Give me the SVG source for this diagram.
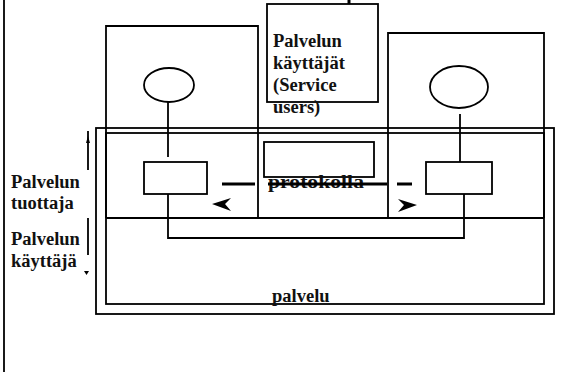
<svg xmlns="http://www.w3.org/2000/svg" width="569" height="372" viewBox="0 0 569 372">
<style>
  .ln { fill: none; stroke: #000; stroke-width: 1.8; }
  .thick { fill: none; stroke: #000; stroke-width: 3; }
  .t { font-family: "Liberation Serif", "Times New Roman", serif; font-weight: bold; font-size: 18.5px; fill: #111; }
  .ah { fill: #000; stroke: none; }
</style>
<rect x="0" y="0" width="569" height="372" fill="#fff"/>

<g id="page-edge">
  <line class="ln" x1="4" y1="0" x2="4" y2="372" stroke-width="2.2"/>
</g>

<g id="service-frame">
  <rect class="ln" x="96" y="128" width="458" height="186"/>
</g>

<g id="service-inner">
  <rect class="ln" x="106" y="133" width="438" height="171"/>
  <line class="ln" x1="106" y1="218" x2="544" y2="218"/>
  <text class="t" x="272" y="302">palvelu</text>
</g>

<g id="left-entity">
  <path class="ln" d="M106,218 V26 H258 V218"/>
  <ellipse class="ln" cx="169" cy="85" rx="25" ry="17"/>
  <rect class="ln" x="144" y="162" width="63" height="32"/>
</g>

<g id="right-entity">
  <path class="ln" d="M388,218 V33 H544 V218"/>
  <ellipse class="ln" cx="459" cy="87" rx="29" ry="21"/>
  <rect class="ln" x="426" y="162" width="66" height="32"/>
</g>

<g id="service-users">
  <rect class="ln" x="267" y="4" width="111" height="98"/>
  <text class="t" x="273" y="47">Palvelun</text>
  <text class="t" x="273" y="69">käyttäjät</text>
  <text class="t" x="273" y="91">(Service</text>
  <text class="t" x="273" y="113">users)</text>
</g>

<g id="protocol-box">
  <rect class="ln" x="264" y="142" width="110" height="35"/>
  <text class="t" x="268" y="188" textLength="96" lengthAdjust="spacingAndGlyphs">protokolla</text>
</g>

<g id="side-labels">
  <text class="t" x="11" y="188">Palvelun</text>
  <text class="t" x="11" y="209">tuottaja</text>
  <text class="t" x="11" y="245">Palvelun</text>
  <text class="t" x="11" y="267">käyttäjä</text>
</g>

<g id="connectors">
  <line class="thick" x1="349" y1="0" x2="349" y2="4"/>
  <line class="ln" x1="168" y1="102" x2="168" y2="157"/>
  <line class="ln" x1="460" y1="114" x2="460" y2="162"/>
  <path class="ln" d="M168,194 V238 H464 V194"/>
  <path class="thick" d="M222,184 H255 M268,184 H387 M397,184 H412"/>
  <polygon class="ah" points="212,204 231,198 225,204 231,211"/>
  <polygon class="ah" points="417,205 398,199 404,205 398,212"/>
  <line class="ln" x1="88" y1="131" x2="88" y2="170"/>
  <polygon class="ah" points="86,143 90,143 88,136"/>
  <line class="ln" x1="88" y1="218" x2="88" y2="255"/>
  <polygon class="ah" points="84,271 89,271 86.5,275"/>
</g>
</svg>
